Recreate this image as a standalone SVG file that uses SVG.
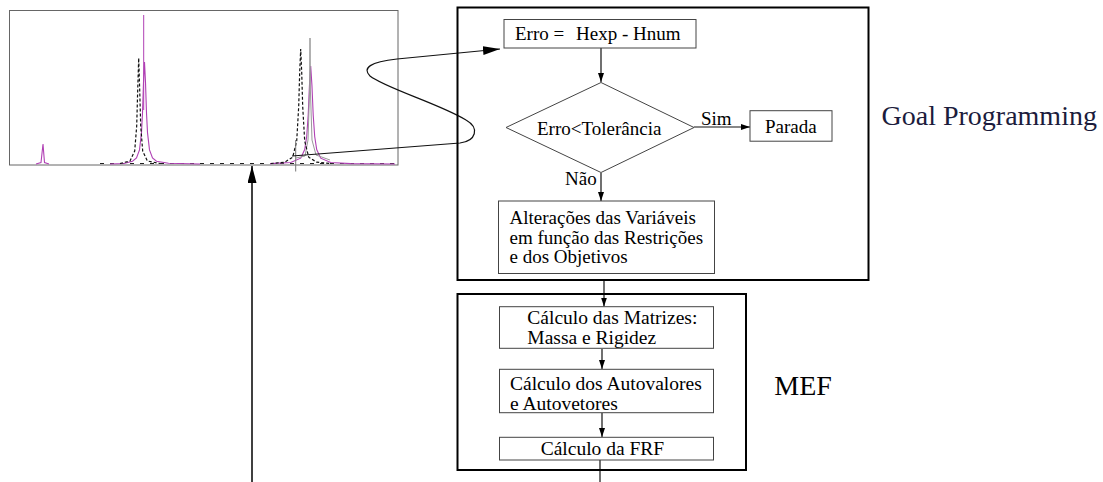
<svg xmlns="http://www.w3.org/2000/svg" width="1103" height="482" viewBox="0 0 1103 482">
<defs>
<style>
text{font-family:"Liberation Serif","Times New Roman",serif;fill:#000}
.t{font-size:19px}
.tm{font-size:19.5px}
.box{fill:#fff;stroke:#444;stroke-width:1}
.frame{fill:none;stroke:#000;stroke-width:2}
.con{fill:none;stroke:#111;stroke-width:1.2}
.pur{fill:none;stroke:#b040b4;stroke-width:1.1}
.dsh{fill:none;stroke:#111;stroke-width:1.2;stroke-dasharray:3 2}
</style>
<marker id="ah" markerUnits="userSpaceOnUse" markerWidth="10" markerHeight="7" refX="9" refY="3" orient="auto">
<path d="M0,0 L9,3 L0,6 z" fill="#000"/>
</marker>
<marker id="ahBig" markerUnits="userSpaceOnUse" markerWidth="18" markerHeight="10" refX="17" refY="4.5" orient="auto">
<path d="M0,0 L17,4.5 L0,9 z" fill="#000"/>
</marker>
</defs>
<rect width="1103" height="482" fill="#fff"/>

<g id="chart">
<rect x="9.5" y="10.5" width="388.5" height="154.5" fill="#fff" stroke="#666" stroke-width="1"/>
<line x1="100" y1="163.5" x2="396" y2="163.5" stroke="#222" stroke-width="1.2" stroke-dasharray="4 6"/>
<polyline class="pur" points="36,164 41,162.5 43,144 44.5,162.5 49,164"/>
<polyline class="pur" points="110,164 124,163.5 132.5,161.2 136.5,158 139.5,149.9 141.5,132.6 142.5,113 143.5,82.4 144.5,62 145.5,82.4 146.5,113 147.5,132.6 149.5,149.9 152.5,158 156.5,161.2 168.5,163.3 200,164"/>
<line x1="143.7" y1="15" x2="143.7" y2="110" stroke="#b040b4" stroke-width="1"/>
<polyline class="dsh" points="120,163.5 130,161 134.7,151 136.7,126 137.7,90 138.7,58 139.7,90 140.7,126 142.7,151 147.4,161 160,163.5"/>
<polyline class="pur" points="270,163.6 290.7,162.5 300.7,158.2 304.7,149.5 306.7,136.5 308.2,115 309.45,85.6 310.7,66 311.95,85.6 313.2,115 314.7,136.5 316.7,149.5 320.7,158.2 330.7,162.5 350.7,163.6 395,164"/>
<polyline fill="none" stroke="#999" stroke-width="1" points="296,158 305,156 308,140 309.6,90 310,38 310.4,90 312,140 316,155 330,160"/>
<polyline class="dsh" points="270.7,163.5 284.7,162.2 292.7,157.2 296.7,141 298.7,106.5 299.7,72 300.7,49 301.7,72 302.7,106.5 304.7,141 308.7,157.2 316.7,162.2 330.7,163.5"/>
<line x1="295.7" y1="140" x2="295.7" y2="171.5" stroke="#777" stroke-width="1"/>
</g>

<g id="connectors">
<path class="con" d="M292,156 L460,143 C476,141 480,128 466,120 C440,104 385,88 370,76 C362,68 370,62 397,59 L500,49" marker-end="url(#ahBig)"/>
<line x1="252" y1="482" x2="252" y2="166" stroke="#000" stroke-width="1.5" marker-end="url(#ahBig)"/>
<line x1="601" y1="48" x2="601" y2="82" class="con" marker-end="url(#ah)"/>
<line x1="694" y1="127" x2="750" y2="127" class="con" marker-end="url(#ah)"/>
<line x1="601" y1="173" x2="601" y2="201" class="con" marker-end="url(#ah)"/>
<line x1="604" y1="281" x2="604" y2="306.5" class="con" marker-end="url(#ah)"/>
<line x1="602" y1="349" x2="602" y2="369" class="con" marker-end="url(#ah)"/>
<line x1="602" y1="413" x2="602" y2="437" class="con" marker-end="url(#ah)"/>
<line x1="600" y1="460" x2="600" y2="482" class="con"/>
</g>

<g id="goal-programming">
<rect class="frame" x="457.5" y="7.5" width="411" height="272.5"/>
<text x="881.5" y="125" style="font-size:28px;fill:#1c1c3c">Goal Programming</text>
</g>

<g id="erro">
<rect class="box" x="504" y="19.5" width="192" height="28.5"/>
<text class="t" x="515" y="40">Erro =<tspan x="576">Hexp - Hnum</tspan></text>
</g>

<g id="decisao">
<polygon points="601,82.5 694,127.5 601,172.5 506,127.5" fill="#fff" stroke="#444" stroke-width="1"/>
<text class="t" x="537" y="135">Erro&lt;Tolerância</text>
<text class="t" x="701" y="125">Sim</text>
<text class="t" x="565" y="185">Não</text>
</g>

<g id="parada">
<rect class="box" x="750" y="110.7" width="82" height="30.5"/>
<text class="t" x="765" y="133">Parada</text>
</g>

<g id="alteracoes">
<rect class="box" x="498.5" y="201" width="216" height="72.5"/>
<text class="t" x="509.5" y="224">Alterações das Variáveis</text>
<text class="t" x="509.5" y="243.5">em função das Restrições</text>
<text class="t" x="509.5" y="263">e dos Objetivos</text>
</g>

<g id="mef">
<rect class="frame" x="457.5" y="294" width="288.5" height="176"/>
<text x="774.3" y="395" style="font-size:28px">MEF</text>
</g>

<g id="matrizes">
<rect class="box" x="499.5" y="306.7" width="214" height="41.6"/>
<text class="tm" x="527.3" y="324">Cálculo das Matrizes:</text>
<text class="tm" x="527.3" y="344">Massa e Rigidez</text>
</g>

<g id="autovalores">
<rect class="box" x="499.5" y="369.3" width="214" height="43.4"/>
<text class="tm" x="510" y="390">Cálculo dos Autovalores</text>
<text class="tm" x="510" y="409.5">e Autovetores</text>
</g>

<g id="frf">
<rect class="box" x="499.5" y="437.3" width="214" height="22.7"/>
<text class="tm" x="540.7" y="455">Cálculo da FRF</text>
</g>
</svg>
